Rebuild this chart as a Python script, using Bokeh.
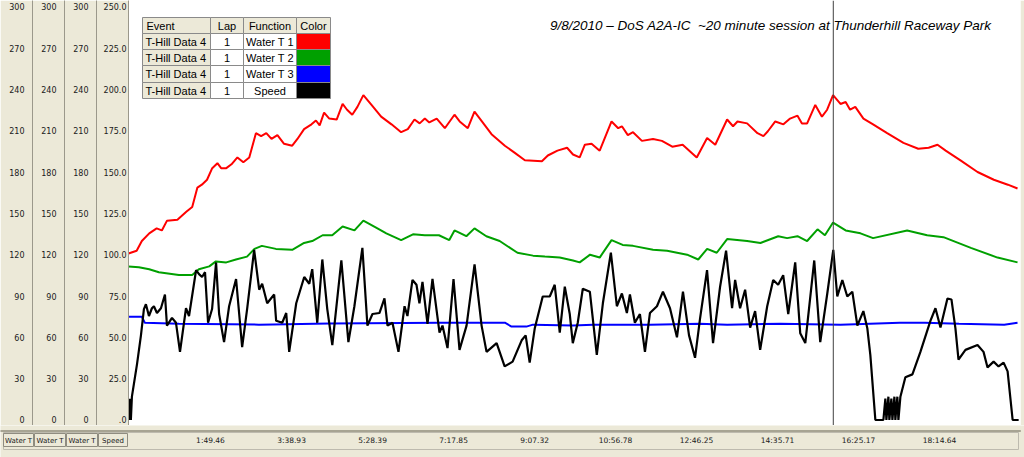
from bokeh.plotting import figure
from bokeh.layouts import column
from bokeh.models import Range1d, LinearAxis, FixedTicker, Span, Label, BoxAnnotation, ColumnDataSource
from bokeh.core.properties import value
from bokeh.embed import file_html
from bokeh.resources import INLINE

# ---------------- data ----------------
water_t1_time = [0, 11, 18, 28, 38, 45, 52, 66, 78, 86, 93, 99, 106, 113, 120, 125, 132, 139, 147, 155,
                 163, 172, 179, 186, 193, 201, 210, 221, 228, 237, 247, 253, 258, 264, 271, 281, 289, 295, 302, 309,
                 317, 328, 341, 355, 368, 377, 386, 393, 400, 406, 416, 427, 440, 447, 458, 467, 477, 490, 508, 521,
                 535, 558, 566, 579, 592, 600, 609, 616, 625, 636, 652, 661, 666, 674, 681, 693, 708, 720, 734, 748,
                 767, 781, 792, 808, 816, 822, 835, 849, 857, 863, 873, 884, 893, 903, 909, 916, 927, 936, 943, 951,
                 961, 968, 974, 981, 992, 1005, 1024, 1046, 1066, 1080, 1092, 1103, 1123, 1146, 1168, 1187, 1200]
water_t1 = [120.9, 122.8, 129.9, 135.5, 139.1, 137.6, 144.7, 145.4, 151.1, 154.6, 168.7, 170.8, 174.4, 182.8, 186.4,
            182.8, 182.8, 185.6, 190.6, 187.1, 190.6, 208.2, 206.1, 208.2, 204.0, 206.8, 200.5, 199.1, 204.0, 211.1,
            214.6, 217.4, 213.9, 223.1, 218.8, 218.1, 229.4, 225.2, 221.6, 227.3, 235.8, 228.7, 220.2, 214.6, 208.9,
            211.1, 218.1, 215.3, 218.8, 216.0, 218.8, 211.8, 221.6, 216.7, 211.8, 223.8, 216.7, 207.5, 199.1, 194.1,
            188.5, 187.8, 192.0, 195.5, 197.6, 192.7, 190.6, 199.8, 200.5, 195.5, 216.7, 211.8, 213.2, 206.8, 208.9,
            202.6, 204.0, 202.6, 198.4, 199.8, 190.6, 204.7, 199.8, 218.1, 213.2, 216.7, 215.3, 208.2, 206.1, 209.6,
            216.7, 214.6, 218.8, 220.9, 215.3, 215.3, 228.7, 220.2, 225.2, 235.8, 229.4, 230.8, 225.2, 227.3, 218.8,
            214.6, 208.2, 201.2, 196.9, 197.6, 199.8, 195.5, 188.5, 180.0, 174.4, 170.8, 168.0]

water_t2_time = [0, 14, 28, 41, 68, 86, 95, 109, 118, 132, 145, 160, 170, 180, 199, 221, 237, 248, 262, 275,
                 289, 305, 317, 336, 348, 368, 384, 400, 419, 433, 440, 456, 467, 483, 501, 525, 546, 562, 582, 600,
                 609, 623, 636, 652, 667, 681, 708, 727, 754, 769, 781, 794, 808, 835, 853, 877, 889, 903, 916, 930,
                 940, 951, 968, 988, 1005, 1051, 1078, 1100, 1137, 1173, 1200]
water_t2 = [111.5, 110.8, 109.4, 107.3, 105.2, 105.2, 109.4, 111.5, 115.1, 114.4, 116.5, 118.6, 124.2, 126.4, 124.2,
            123.5, 128.5, 129.9, 134.1, 134.1, 140.5, 137.6, 144.7, 139.1, 135.5, 130.6, 134.8, 134.1, 134.1, 130.6,
            137.6, 133.4, 139.1, 133.4, 129.9, 121.4, 119.3, 118.6, 117.9, 115.8, 114.4, 120.0, 117.9, 130.6, 127.1,
            126.4, 123.5, 122.8, 120.0, 116.5, 124.2, 121.4, 131.3, 129.9, 128.5, 133.4, 132.0, 133.4, 129.9, 138.4,
            134.1, 143.3, 137.6, 135.5, 132.0, 137.6, 134.1, 132.7, 124.9, 117.9, 114.4]

water_t3_time = [0, 18, 22, 68, 176, 271, 420, 508, 517, 537, 546, 600, 627, 704, 771, 808, 880, 961, 1041, 1075,
                 1121, 1182, 1200]
water_t3 = [75.0, 75.0, 70.6, 69.9, 69.2, 70.0, 70.6, 70.6, 67.8, 67.8, 69.2, 68.5, 69.2, 69.2, 69.9, 69.2, 69.9,
            69.2, 70.6, 70.6, 69.9, 69.2, 70.6]

speed_time = [0, 0.8, 1.6, 2.4, 3.2, 4.6, 11.4, 16.8, 20.8, 23.5, 27.6, 31.6, 34.3, 38.4, 43.8, 49.2, 51.9, 58.7,
              64.1, 69.5, 77.6, 81.7, 91.2, 95.2, 99.3, 103.3, 107.4, 112.8, 118.2, 122.3, 129.0, 135.8, 145.2, 153.4,
              160.1, 169.6, 176.4, 180.4, 187.2, 196.6, 199.3, 207.5, 212.9, 216.9, 226.4, 237.2, 244.0, 248.0, 254.8,
              261.6, 268.3, 275.1, 287.3, 296.8, 304.9, 315.7, 322.5, 329.3, 338.7, 345.5, 349.6, 356.3, 364.4, 372.6,
              376.5, 383.3, 388.7, 392.7, 396.8, 403.6, 410.3, 419.8, 423.8, 430.6, 438.7, 446.8, 456.3, 467.1, 476.6,
              483.3, 496.9, 507.7, 518.5, 530.7, 536.1, 541.5, 548.3, 559.1, 568.6, 575.3, 582.1, 588.9, 595.6, 599.7,
              606.4, 613.2, 622.7, 632.1, 640.3, 651.1, 659.2, 666.0, 672.7, 676.8, 683.5, 690.3, 697.1, 703.8, 713.3,
              721.4, 730.9, 740.3, 748.4, 756.6, 764.7, 771.4, 780.9, 789.0, 798.5, 806.6, 814.7, 818.8, 825.5, 832.3,
              839.1, 845.8, 852.6, 862.1, 870.2, 876.9, 883.7, 890.5, 899.9, 906.7, 913.5, 925.6, 933.7, 943.2, 951.3,
              956.7, 963.5, 970.2, 977.0, 983.8, 991.9, 997.3, 1001.3, 1008.1, 1018.9, 1021.6, 1023.0, 1025.7, 1027.0,
              1029.7, 1031.1, 1033.8, 1035.1, 1037.8, 1039.2, 1041.9, 1048.6, 1058.1, 1068.9, 1082.4, 1089.2, 1096.0,
              1105.4, 1110.8, 1116.2, 1120.3, 1129.7, 1146.0, 1154.1, 1159.5, 1167.7, 1174.4, 1181.2, 1186.6, 1193.4,
              1201.5]
speed = [0, 12.9, 0, 12.9, 0, 14.1, 33.5, 51.2, 67.1, 70.0, 62.9, 67.6, 68.8, 64.7, 67.6, 75.9, 57.1, 61.8, 58.8,
         41.2, 67.6, 62.9, 90.6, 88.2, 86.5, 89.4, 58.8, 67.1, 95.3, 64.1, 47.1, 68.8, 85.3, 44.1, 67.1, 102.9, 78.8,
         82.4, 70.6, 75.9, 60.0, 58.8, 64.7, 41.2, 70.6, 86.5, 82.4, 91.2, 58.8, 97.1, 67.1, 45.3, 96.5, 47.1, 68.8,
         104.1, 57.1, 64.1, 64.7, 73.5, 57.1, 58.8, 41.2, 68.8, 62.9, 84.7, 81.8, 70.6, 83.5, 58.2, 85.3, 52.9, 57.1,
         43.5, 85.3, 42.4, 57.1, 94.1, 57.1, 41.2, 46.5, 32.4, 35.3, 48.2, 51.2, 34.7, 55.3, 74.7, 74.7, 81.8, 52.9,
         80.6, 64.1, 46.5, 58.8, 79.4, 77.6, 39.4, 70.6, 101.2, 68.8, 76.5, 64.7, 75.9, 58.8, 64.1, 41.2, 64.7, 68.8,
         77.6, 67.6, 50.0, 77.6, 51.2, 37.6, 61.2, 90.6, 46.5, 80.6, 102.4, 67.6, 84.7, 67.6, 78.8, 55.9, 65.9, 42.4,
         68.8, 84.7, 81.8, 87.6, 64.1, 95.3, 52.4, 46.5, 96.5, 47.1, 76.5, 102.9, 74.7, 84.7, 74.7, 77.6, 57.1, 65.9,
         55.3, 39.4, 0, 0, 12.9, 0, 14.1, 0, 12.9, 0, 14.1, 0, 14.1, 0, 14.1, 25.9, 27.6, 41.2, 60.0, 67.6, 55.9, 73.5,
         72.9, 55.3, 36.5, 42.4, 45.3, 41.2, 31.8, 35.3, 32.4, 34.7, 29.4, 0, 0]

temp_ticks = [0, 30, 60, 90, 120, 150, 180, 210, 240, 270, 300]
temp_tick_labels = ["0", "30", "60", "90", "120", "150", "180", "210", "240", "270", "300"]
speed_ticks = [0, 25, 50, 75, 100, 125, 150, 175, 200, 225, 250]
speed_tick_labels = [".0", "25.0", "50.0", "75.0", "100.0", "125.0", "150.0", "175.0", "200.0", "225.0", "250.0"]
time_ticks = [109.46, 218.93, 328.39, 437.85, 547.32, 656.78, 766.25, 875.71, 985.17, 1094.64]
time_tick_labels = ["1:49.46", "3:38.93", "5:28.39", "7:17.85", "9:07.32", "10:56.78", "12:46.25", "14:35.71",
                    "16:25.17", "18:14.64"]
cursor_time = 951.3

legend_headers = ["Event", "Lap", "Function", "Color"]
series_event = "T-Hill Data 4"
series_lap = "1"
series_names = ["Water T 1", "Water T 2", "Water T 3", "Speed"]
series_colors = ["#FF0000", "#00A000", "#0000FF", "#000000"]
axis_titles = ["Water T", "Water T", "Water T", "Speed"]
title_text = "9/8/2010 \u2013 DoS A2A-IC \u00a0~20 minute session at Thunderhill Raceway Park"

# ---------------- main figure ----------------
BEIGE = "#ECE9D8"
FIG_W = 1024
H = 425          # main figure height (frame fills it vertically)
STRIP_H = 32
T_END = 1204     # right end of the time axis
Y0, Y1 = -4.0, 304.5

p = figure(width=FIG_W, height=H, output_backend="svg", toolbar_location=None,
           x_range=Range1d(0, T_END), y_range=Range1d(Y0, Y1),
           x_axis_location=None, y_axis_location=None,
           min_border_left=0, min_border_right=4, min_border_top=0, min_border_bottom=0,
           border_fill_color=BEIGE, background_fill_color="white", outline_line_color=None)
p.title.visible = False
p.frame_align = False
p.extra_y_ranges = {"speed": Range1d(Y0 / 1.2, Y1 / 1.2)}
p.grid.grid_line_color = None


def make_axis(ticks, labels, range_name, standoff, pad):
    ax = LinearAxis(y_range_name=range_name, ticker=FixedTicker(ticks=ticks),
                    major_label_overrides={t: l for t, l in zip(ticks, labels)})
    ax.major_tick_line_color = None
    ax.minor_tick_line_color = None
    ax.major_tick_out = 0
    ax.major_tick_in = 0
    ax.axis_line_color = "#9B988B"
    ax.major_label_standoff = standoff
    ax.major_label_text_font = "DejaVu Sans"
    ax.major_label_text_font_size = "8px"
    ax.major_label_text_color = "#202020"
    ax.axis_label = " "
    ax.axis_label_text_font_size = "1px"
    ax.axis_label_standoff = pad
    return ax


p.add_layout(make_axis(speed_ticks, speed_tick_labels, "speed", 2, 0), "left")
for _ in range(3):
    p.add_layout(make_axis(temp_ticks, temp_tick_labels, "default", 8, 2), "left")

# series
p.line(water_t1_time, water_t1, line_color=series_colors[0], line_width=2)
p.line(water_t2_time, water_t2, line_color=series_colors[1], line_width=2)
p.line(water_t3_time, water_t3, line_color=series_colors[2], line_width=2)
p.line(speed_time, speed, line_color=series_colors[3], line_width=2.2, y_range_name="speed")

p.add_layout(Span(location=cursor_time, dimension="height", line_color="#404040", line_width=1))


def box(fig, fh, l, r, t_from_top, b_from_top, fill, line="#8A8A8A", level="annotation"):
    fig.add_layout(BoxAnnotation(left=l, right=r, top=fh - t_from_top, bottom=fh - b_from_top,
                                 left_units="screen", right_units="screen",
                                 top_units="screen", bottom_units="screen",
                                 fill_color=fill, fill_alpha=1.0, line_color=line, line_alpha=1.0,
                                 line_width=1, level=level))


def text(fig, fh, x, y_from_top, s, align="left", size="11px", font="Liberation Sans", style="normal",
         color="#000000"):
    fig.add_layout(Label(x=x, y=fh - y_from_top, x_units="screen", y_units="screen", text=s,
                         text_align=align, text_baseline="middle", text_font=font,
                         text_font_size=size, text_font_style=style, text_color=color))


# legend table (positions in px from the frame's left / top)
col_edges = [14, 82, 115, 168, 202]
row_edges = [17, 33, 49, 65, 82, 98]
for r in range(5):
    for c in range(4):
        if r == 0 or c == 0:
            fill = BEIGE
        elif c == 3:
            fill = series_colors[r - 1]
        else:
            fill = "white"
        box(p, H, col_edges[c], col_edges[c + 1], row_edges[r], row_edges[r + 1], fill)
for c, h in enumerate(legend_headers):
    if c == 0:
        text(p, H, col_edges[0] + 4, (row_edges[0] + row_edges[1]) / 2, h)
    else:
        text(p, H, (col_edges[c] + col_edges[c + 1]) / 2, (row_edges[0] + row_edges[1]) / 2, h, align="center")
for i, name in enumerate(series_names):
    yc = (row_edges[i + 1] + row_edges[i + 2]) / 2
    text(p, H, col_edges[0] + 3, yc, series_event)
    text(p, H, (col_edges[1] + col_edges[2]) / 2, yc, series_lap, align="center")
    text(p, H, (col_edges[2] + col_edges[3]) / 2, yc, name, align="center")

# title
text(p, H, 863, 25, title_text, align="right", size="13.5px", style="italic")

# ---------------- bottom strip (column titles + time labels) ----------------
# the strip frame spans the whole width; its time scale lines up with the main frame (129..1020 px)
sec_per_px = T_END / 891.0
strip = figure(width=FIG_W, height=STRIP_H, output_backend="svg", toolbar_location=None,
               x_range=Range1d(-129 * sec_per_px, T_END + 4 * sec_per_px), y_range=Range1d(0, STRIP_H),
               x_axis_location=None, y_axis_location=None, min_border=0,
               border_fill_color=BEIGE, background_fill_color=BEIGE, outline_line_color=None)
strip.title.visible = False
strip.frame_align = False
strip.grid.grid_line_color = None

box(strip, STRIP_H, 0, 1020, 5, 6, "#A7A493", line="#A7A493", level="underlay")
box(strip, STRIP_H, 3, 1018, 7, 24, BEIGE, line="#BDBAAE", level="underlay")
bcols = [(3, 33), (34, 65), (66, 97), (98, 127)]
for (l, r), s in zip(bcols, axis_titles):
    box(strip, STRIP_H, l, r, 8, 21, BEIGE, line="#8F8C80", level="underlay")
    text(strip, STRIP_H, (l + r) / 2, 15, s, align="center", size="7px", font="DejaVu Sans", color="#202020")

tick_src = ColumnDataSource(dict(x=time_ticks, y=[STRIP_H - 15] * len(time_ticks), label=time_tick_labels))
strip.text(x="x", y="y", text="label", source=tick_src, text_align="center", text_baseline="middle",
           text_font=value("DejaVu Sans"), text_font_size=value("7.5px"), text_color="#202020")

layout = column(p, strip, spacing=0)

with open("out.html", "w", encoding="utf-8") as f:
    f.write(file_html(layout, INLINE))
